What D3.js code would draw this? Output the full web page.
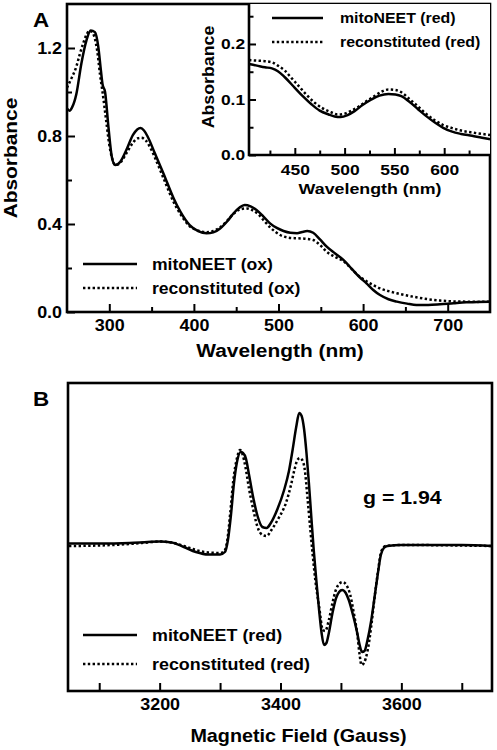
<!DOCTYPE html>
<html><head><meta charset="utf-8">
<script src="https://cdn.jsdelivr.net/npm/d3@7"></script>
<style>
html,body{margin:0;padding:0;background:#fff;}
svg{display:block;}
text{font-family:"Liberation Sans",Arial,sans-serif;font-weight:bold;fill:#000;}
</style></head>
<body>
<svg id="chart" width="497" height="750"></svg>
<script>
// ---------- Panel A main: oxidized absorbance ----------
const wlOx = [250,253,256,261,267,273,278,283,287,290,292,295,299,303,307,313,320,328,333,337,341,345,354,364,376,384,395,405,415,423,431,440,447,454,460,467,474,482,490,498,506,514,522,528,534,541,549,557,567,577,588,596,604,612,620,630,640,652,663,677,691,707,722,735,750];
const mitoOx = [0.925,0.915,0.93,0.99,1.13,1.235,1.28,1.272,1.205,1.10,1.035,1.0,0.84,0.705,0.668,0.683,0.735,0.805,0.83,0.836,0.825,0.80,0.72,0.63,0.517,0.456,0.395,0.368,0.358,0.362,0.38,0.415,0.449,0.475,0.486,0.48,0.464,0.435,0.403,0.382,0.368,0.36,0.358,0.364,0.368,0.36,0.33,0.297,0.266,0.236,0.19,0.158,0.13,0.10,0.077,0.058,0.047,0.038,0.032,0.032,0.035,0.04,0.044,0.045,0.047];
const wlOx2 = [250,255,261,265,269,273,276,279,282,286,289,292,296,300,304,307,312,320,328,334,338,343,350,358,366,376,384,395,405,415,423,431,440,447,455,462,469,476,484,492,502,512,522,531,541,549,557,567,577,588,596,604,612,620,630,640,652,663,677,691,707,722,735,750];
const reconOx = [1.02,1.06,1.115,1.17,1.22,1.26,1.277,1.275,1.255,1.18,1.08,1.0,0.88,0.76,0.69,0.668,0.675,0.72,0.77,0.79,0.792,0.78,0.735,0.665,0.59,0.5,0.445,0.39,0.37,0.363,0.368,0.385,0.418,0.447,0.467,0.471,0.463,0.445,0.41,0.378,0.35,0.338,0.335,0.333,0.327,0.305,0.274,0.25,0.23,0.19,0.16,0.14,0.122,0.107,0.095,0.085,0.075,0.067,0.058,0.052,0.048,0.047,0.046,0.047];
const xTicksA = [300,400,500,600,700];
const xMinorA = [350,450,550,650];
const yTicksA = [0.0,0.4,0.8,1.2];
const yMinorA = [0.2,0.6,1.0];

// ---------- Panel A inset: reduced absorbance ----------
const wlRed = [404,412,420,427,433,440,450,458,467,475,484,490,496,503,510,518,527,535,544,551,557,565,574,582,591,599,608,617,628,638,646];
const mitoRed = [0.164,0.161,0.158,0.156,0.151,0.14,0.121,0.106,0.091,0.08,0.073,0.0695,0.0685,0.072,0.079,0.09,0.1,0.107,0.11,0.109,0.106,0.096,0.082,0.07,0.058,0.049,0.042,0.038,0.0345,0.031,0.0285];
const wlRed2 = [404,412,420,427,433,440,447,454,462,470,478,487,493,499,506,514,522,530,537,544,551,557,565,574,582,591,599,608,617,628,638,646];
const reconRed = [0.171,0.17,0.169,0.167,0.161,0.152,0.138,0.124,0.108,0.094,0.084,0.0765,0.073,0.074,0.079,0.087,0.097,0.106,0.114,0.118,0.117,0.113,0.101,0.087,0.074,0.062,0.054,0.0485,0.044,0.0405,0.038,0.036];
const xTicksI = [450,500,550,600];
const xMinorI = [425,475,525,575,625];
const yTicksI = [0.0,0.1,0.2];
const yMinorI = [0.05,0.15,0.25];

// ---------- Panel B: EPR ----------
const fieldM = [3050,3100,3150,3180,3200,3220,3240,3260,3280,3300,3308,3313,3318,3323,3328,3334,3338,3343,3348,3354,3362,3370,3377,3384,3395,3406,3414,3420,3426,3431,3435,3439,3443,3447,3451,3455,3460,3464,3468,3472,3476,3480,3486,3492,3497,3502,3508,3513,3520,3527,3531,3535,3539,3544,3550,3555,3561,3566,3571,3577,3600,3650,3700,3750];
const eprMito = [0.15,0.15,0.2,0.3,0.35,0.25,-0.2,-0.7,-0.95,-0.95,-0.7,0.5,3.0,6.2,8.3,9.3,9.2,8.6,7.0,5.0,2.9,1.8,1.7,2.2,3.6,5.5,7.4,9.5,11.8,13.2,12.9,11.6,9.2,6.2,2.8,-0.5,-4.0,-6.6,-8.8,-10.0,-9.8,-8.8,-6.8,-5.3,-4.7,-4.5,-4.8,-5.5,-7.0,-8.8,-10.0,-10.7,-10.6,-9.5,-7.6,-5.5,-2.9,-1.0,-0.3,-0.1,0,0,0,-0.1];
const fieldR = [3050,3100,3150,3180,3200,3220,3240,3260,3280,3300,3307,3312,3317,3322,3328,3333,3337,3342,3348,3354,3362,3370,3377,3385,3397,3409,3417,3423,3428,3432,3436,3440,3445,3449,3453,3458,3464,3470,3474,3480,3486,3491,3497,3503,3509,3515,3521,3527,3531,3534,3538,3544,3550,3555,3561,3567,3574,3600,3750];
const eprRecon = [-0.1,-0.05,0.1,0.25,0.35,0.25,-0.1,-0.5,-0.75,-0.8,-0.6,0.5,3.3,6.5,8.7,9.5,9.1,7.8,5.6,3.8,1.8,1.0,0.9,1.5,2.7,4.2,5.9,7.5,8.5,8.7,8.5,7.6,4.5,1.8,-0.8,-3.7,-6.2,-8.5,-8.6,-7.5,-5.8,-4.6,-3.9,-3.7,-4.0,-4.9,-6.7,-8.9,-11.0,-12.0,-11.8,-10.6,-8.2,-5.6,-2.8,-0.6,-0.1,0,-0.1];
const xTicksB = [3200,3400,3600];
const xMinorB = [3100,3300,3500,3700];

const svg = d3.select('#chart');
const LW = 2.5, DASH = '2.4,2.4';

function label(x, y, s, size, sx, anchor, rot) {
  return svg.append('text')
    .attr('transform', `translate(${x},${y})` + (rot ? ` rotate(${rot})` : '') + ` scale(${sx},1)`)
    .attr('text-anchor', anchor || 'start')
    .style('font-size', size + 'px')
    .text(s);
}
function axisG(axis, tx, ty, labels, fontSize, sx) {
  const g = svg.append('g').attr('transform', `translate(${tx},${ty})`).call(axis);
  g.select('.domain').remove();
  g.selectAll('.tick line').attr('stroke', '#000').attr('stroke-width', 2);
  g.selectAll('text').style('font-size', fontSize + 'px')
    .style('font-family', '"Liberation Sans",Arial,sans-serif').style('font-weight', 'bold')
    .attr('transform', `scale(${sx},1)`);
  if (!labels) g.selectAll('text').remove();
  return g;
}
function lineFn(x, y) {
  return d3.line().x(d => x(d[0])).y(d => y(d[1])).curve(d3.curveMonotoneX);
}
function drawSeries(xs, ys, x, y, dashed) {
  svg.append('path').datum(xs.map((v, i) => [v, ys[i]]))
    .attr('d', lineFn(x, y)).attr('fill', 'none').attr('stroke', '#000')
    .attr('stroke-width', LW).attr('stroke-dasharray', dashed ? DASH : null)
    .attr('stroke-linejoin', 'round');
}
function legend(x0, x1, x2, yS, yD, t1, t2, size, sx) {
  svg.append('line').attr('x1', x0).attr('x2', x1).attr('y1', yS).attr('y2', yS)
    .attr('stroke', '#000').attr('stroke-width', LW);
  svg.append('line').attr('x1', x0).attr('x2', x1).attr('y1', yD).attr('y2', yD)
    .attr('stroke', '#000').attr('stroke-width', LW).attr('stroke-dasharray', DASH);
  label(x2, yS + size * 0.36, t1, size, sx);
  label(x2, yD + size * 0.36, t2, size, sx);
}

// ===== Panel A main =====
const xA = d3.scaleLinear().domain([250, 750]).range([67, 490]);
const yA = d3.scaleLinear().domain([0, 1.4]).range([312, 4]);
drawSeries(wlOx2, reconOx, xA, yA, true);
drawSeries(wlOx, mitoOx, xA, yA, false);
axisG(d3.axisBottom(xA).tickValues(xTicksA).tickSize(-8).tickPadding(7).tickFormat(d3.format('d')), 0, 312, true, 16.3, 1.1);
axisG(d3.axisBottom(xA).tickValues(xMinorA).tickSize(-5), 0, 312, false, 16, 1);
axisG(d3.axisLeft(yA).tickValues(yTicksA).tickSize(-8).tickPadding(4.5).tickFormat(d3.format('.1f')), 67, 0, true, 16.3, 1.1);
axisG(d3.axisLeft(yA).tickValues(yMinorA).tickSize(-5), 67, 0, false, 16, 1);
svg.append('rect').attr('x', 67).attr('y', 4).attr('width', 423).attr('height', 308)
  .attr('fill', 'none').attr('stroke', '#000').attr('stroke-width', 2.6);
label(280, 357, 'Wavelength (nm)', 18.5, 1.13, 'middle');
label(16.5, 158, 'Absorbance', 18.5, 1.13, 'middle', -90);
legend(83, 137, 152, 264, 288, 'mitoNEET (ox)', 'reconstituted (ox)', 16.5, 1.065);
label(33, 27, 'A', 20, 1.12);

// ===== Panel A inset =====
const xI = d3.scaleLinear().domain([404, 646]).range([249, 490]);
const yI = d3.scaleLinear().domain([0, 0.272]).range([155, 4]);
svg.append('rect').attr('x', 249).attr('y', 4).attr('width', 241).attr('height', 151).attr('fill', '#fff');
drawSeries(wlRed2, reconRed, xI, yI, true);
drawSeries(wlRed, mitoRed, xI, yI, false);
axisG(d3.axisBottom(xI).tickValues(xTicksI).tickSize(-7).tickPadding(9.5).tickFormat(d3.format('d')), 0, 155, true, 15.2, 1.15);
axisG(d3.axisBottom(xI).tickValues(xMinorI).tickSize(-4.5), 0, 155, false, 16, 1);
axisG(d3.axisLeft(yI).tickValues(yTicksI).tickSize(-7).tickPadding(3.5).tickFormat(d3.format('.1f')), 249, 0, true, 15.5, 1.12);
axisG(d3.axisLeft(yI).tickValues(yMinorI).tickSize(-4.5), 249, 0, false, 16, 1);
svg.append('path').attr('d', `M249,4V155H490`).attr('fill', 'none').attr('stroke', '#000').attr('stroke-width', 2.6);
label(370, 194, 'Wavelength (nm)', 15.5, 1.15, 'middle');
label(213.5, 77, 'Absorbance', 16.3, 1.09, 'middle', -90);
legend(272, 323, 340, 18, 42, 'mitoNEET (red)', 'reconstituted (red)', 15, 1.06);

// ===== Panel B =====
const xB = d3.scaleLinear().domain([3050, 3750]).range([69, 492]);
const yB = d3.scaleLinear().domain([-14.6, 16.2]).range([691, 383]);
drawSeries(fieldR, eprRecon, xB, yB, true);
drawSeries(fieldM, eprMito, xB, yB, false);
axisG(d3.axisBottom(xB).tickValues(xTicksB).tickSize(-8).tickPadding(7.5).tickFormat(d3.format('d')), 0, 691, true, 16.3, 1.1);
axisG(d3.axisBottom(xB).tickValues(xMinorB).tickSize(-8), 0, 691, false, 16, 1);
svg.append('rect').attr('x', 68).attr('y', 383).attr('width', 424).attr('height', 308)
  .attr('fill', 'none').attr('stroke', '#000').attr('stroke-width', 2.6);
label(298.5, 742, 'Magnetic Field (Gauss)', 19, 1.04, 'middle');
label(363, 504, 'g = 1.94', 18.5, 1.15);
legend(83, 137, 152, 635, 664, 'mitoNEET (red)', 'reconstituted (red)', 16.8, 1.065);
label(33, 406, 'B', 21, 1.07);
</script>
</body></html>
